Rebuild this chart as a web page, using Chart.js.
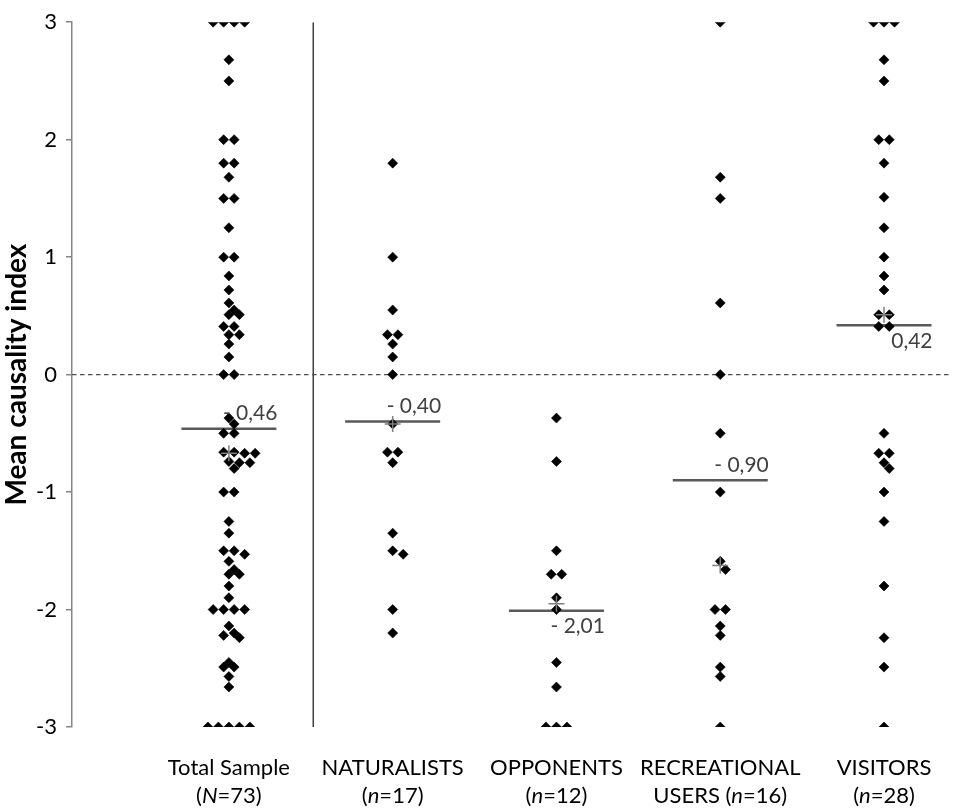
<!DOCTYPE html>
<html>
<head>
<meta charset="utf-8">
<script src="https://cdn.jsdelivr.net/npm/chart.js@4"></script>
<style>
html,body{margin:0;padding:0;background:#fff;}
#wrap{width:961px;height:811px;position:relative;}
</style>
</head>
<body>
<div id="wrap"><canvas id="c"></canvas></div>
<script>
// ---- data ----
const categories = ['Total Sample', 'NATURALISTS', 'OPPONENTS', 'RECREATIONAL', 'VISITORS'];
const secondLinePrefix = ['', '', '', 'USERS ', ''];
const sampleSymbol = ['N', 'n', 'n', 'n', 'n'];
const sampleSizes = [73, 17, 12, 16, 28];

const totalSample = [3,3,3,3,2.68,2.5,2,2,1.8,1.8,1.68,1.5,1.5,1.25,1,1,0.84,0.72,0.61,0.55,0.51,0.51,0.41,0.41,0.34,0.34,0.26,0.15,0,0,
  -0.37,-0.42,-0.5,-0.5,-0.66,-0.66,-0.67,-0.67,-0.74,-0.75,-0.75,-0.8,-1,-1,-1.25,-1.35,-1.5,-1.5,-1.53,-1.59,-1.66,-1.7,-1.7,-1.8,-1.9,
  -2,-2,-2,-2,-2.14,-2.2,-2.22,-2.24,-2.45,-2.49,-2.49,-2.57,-2.66,-3,-3,-3,-3,-3];
const naturalists = [1.8,1,0.55,0.34,0.34,0.26,0.15,0,-0.42,-0.66,-0.66,-0.75,-1.35,-1.5,-1.53,-2,-2.2];
const opponents = [-0.37,-0.74,-1.5,-1.7,-1.7,-1.9,-2,-2.45,-2.66,-3,-3,-3];
const recreationalUsers = [3,1.68,1.5,0.61,0,-0.5,-1,-1.59,-1.66,-2,-2,-2.14,-2.22,-2.49,-2.57,-3];
const visitors = [3,3,3,2.68,2.5,2,2,1.8,1.51,1.25,1,0.84,0.72,0.51,0.51,0.41,0.41,-0.5,-0.67,-0.67,-0.75,-0.8,-1,-1.25,-1.8,-2.24,-2.49,-3];
const groupValues = [totalSample, naturalists, opponents, recreationalUsers, visitors];

const means = [-0.46, -0.40, -2.01, -0.90, 0.42];
const meanLabelAbove = [true, true, false, true, false];
const yTicks = [-3, -2, -1, 0, 1, 2, 3];

// ---- layout / style constants ----
const FONT = 'Lato, "Open Sans", sans-serif';
const X_MIN = -0.958, X_MAX = 4.412;
const MEAN_HALF = 0.29;
const DIVIDER_X = 0.515;

function median(a) {
  const s = [...a].sort((p, q) => p - q);
  const m = Math.floor(s.length / 2);
  return s.length % 2 ? s[m] : (s[m - 1] + s[m]) / 2;
}
function fmt(v) {
  const s = Math.abs(v).toFixed(2).replace('.', ',');
  return v < 0 ? '- ' + s : s;
}

const datasets = [];
// median crosses (top)
datasets.push({
  type: 'scatter', label: 'median', order: 0,
  data: groupValues.map((g, i) => ({ x: i, y: median(g) })),
  pointStyle: 'cross', pointRadius: 8, pointBorderColor: '#7f7f7f', pointBorderWidth: 1.5,
  pointBackgroundColor: '#7f7f7f', showLine: false
});
// dots
groupValues.forEach((g, i) => {
  datasets.push({
    type: 'scatter', label: categories[i], order: 1, groupIndex: i,
    data: g.map(v => ({ x: i, y: v })),
    pointStyle: 'rectRot', pointRadius: 5, pointBackgroundColor: '#000', pointBorderColor: '#000', pointBorderWidth: 0.6,
    showLine: false
  });
});
// mean lines
means.forEach((m, i) => {
  datasets.push({
    type: 'line', label: 'mean' + i, order: 2,
    data: [{ x: i - MEAN_HALF, y: m }, { x: i + MEAN_HALF, y: m }],
    borderColor: '#595959', borderWidth: 2.5, pointRadius: 0, fill: false
  });
});
// zero line
datasets.push({
  type: 'line', label: 'zero', order: 3,
  data: [{ x: X_MIN, y: 0 }, { x: X_MAX, y: 0 }],
  borderColor: '#4d4d4d', borderWidth: 1.3, borderDash: [4.5, 3.5], pointRadius: 0, fill: false
});
// divider
datasets.push({
  type: 'line', label: 'divider', order: 3,
  data: [{ x: DIVIDER_X, y: -3 }, { x: DIVIDER_X, y: 3 }],
  borderColor: '#404040', borderWidth: 1.5, pointRadius: 0, fill: false
});

const labelsPlugin = {
  id: 'labelsPlugin',
  afterDatasetsDraw(chart) {
    const ctx = chart.ctx, xs = chart.scales.x, ys = chart.scales.y;
    ctx.save();
    // mean labels
    ctx.fillStyle = '#404040';
    ctx.font = '21px ' + FONT;
    ctx.textAlign = 'right';
    ctx.textBaseline = 'middle';
    means.forEach((m, i) => {
      const px = xs.getPixelForValue(i + MEAN_HALF);
      const py = ys.getPixelForValue(m) + (meanLabelAbove[i] ? -15 : 16);
      ctx.fillText(fmt(m), px + 1, py);
    });
    // category labels
    const sz = '22px ';
    ctx.fillStyle = '#000';
    ctx.textBaseline = 'middle';
    categories.forEach((c, i) => {
      const cx = xs.getPixelForValue(i);
      ctx.font = sz + FONT;
      ctx.textAlign = 'center';
      ctx.fillText(c, cx, 768);
      const parts = [
        { t: secondLinePrefix[i] + '(', it: false },
        { t: sampleSymbol[i], it: true },
        { t: '=' + sampleSizes[i] + ')', it: false }
      ];
      let w = 0;
      parts.forEach(p => { ctx.font = (p.it ? 'italic ' : '') + sz + FONT; p.w = ctx.measureText(p.t).width; w += p.w; });
      let x = cx - w / 2;
      ctx.textAlign = 'left';
      parts.forEach(p => { ctx.font = (p.it ? 'italic ' : '') + sz + FONT; ctx.fillText(p.t, x, 796); x += p.w; });
    });
    ctx.restore();
  }
};

const chart = new Chart(document.getElementById('c'), {
  data: { datasets },
  options: {
    responsive: true, maintainAspectRatio: false, animation: false,
    layout: { padding: { top: 20, bottom: 84, left: 0, right: 3 } },
    plugins: { legend: { display: false }, tooltip: { enabled: false } },
    scales: {
      x: { type: 'linear', display: false, min: X_MIN, max: X_MAX },
      y: {
        type: 'linear', min: -3, max: 3,
        afterBuildTicks: s => { s.ticks = yTicks.map(v => ({ value: v })); },
        afterFit: s => { s.width = 72; },
        ticks: { color: '#000', font: { family: FONT, size: 22 }, padding: 9 },
        grid: { drawOnChartArea: false, drawTicks: true, tickLength: 6, color: '#868686', lineWidth: 1.5 },
        border: { display: true, color: '#868686', width: 1.5 },
        title: { display: true, text: 'Mean causality index', color: '#000', font: { family: FONT, size: 28, weight: 'bold' }, padding: { top: 0, bottom: 0 } }
      }
    }
  },
  plugins: [labelsPlugin]
});

// beeswarm spreading of tied / close values, computed in pixel space from the chart scales
function beeswarm(values, center, xs, ys) {
  const slot = 10.5, thr = 9;
  const cx = xs.getPixelForValue(center);
  const placed = [];
  const result = new Array(values.length);
  const idx = values.map((v, i) => i).sort((a, b) => values[b] - values[a]);
  const cands = [0];
  for (let s = 0.5; s <= 8; s += 0.5) cands.push(s, -s);
  let g = 0;
  while (g < idx.length) {
    let h = g;
    while (h < idx.length && values[idx[h]] === values[idx[g]]) h++;
    const k = h - g, py = ys.getPixelForValue(values[idx[g]]);
    let done = false;
    for (const c of cands) {
      const slots = [];
      for (let i = 0; i < k; i++) slots.push(cx + (c + i - (k - 1) / 2) * slot);
      const ok = slots.every(px => placed.every(p => Math.abs(p.px - px) + Math.abs(p.py - py) >= thr));
      if (ok) {
        slots.forEach((px, i) => { placed.push({ px, py }); result[idx[g + i]] = { x: xs.getValueForPixel(px), y: values[idx[g + i]] }; });
        done = true; break;
      }
    }
    if (!done) for (let i = g; i < h; i++) result[idx[i]] = { x: center, y: values[idx[i]] };
    g = h;
  }
  return result;
}
chart.data.datasets.forEach(ds => {
  if (ds.groupIndex !== undefined) ds.data = beeswarm(groupValues[ds.groupIndex], ds.groupIndex, chart.scales.x, chart.scales.y);
});
chart.update('none');
</script>
</body>
</html>
